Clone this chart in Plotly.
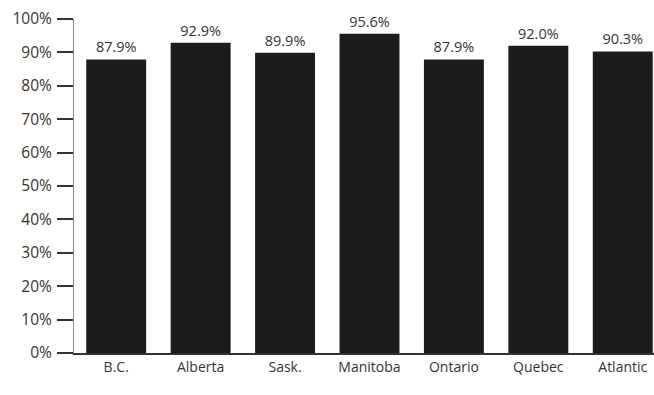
import plotly.graph_objects as go

provinces = ["B.C.", "Alberta", "Sask.", "Manitoba", "Ontario", "Quebec", "Atlantic"]
values = [87.9, 92.9, 89.9, 95.6, 87.9, 92.0, 90.3]
value_labels = ["87.9%", "92.9%", "89.9%", "95.6%", "87.9%", "92.0%", "90.3%"]
y_ticks = [0, 10, 20, 30, 40, 50, 60, 70, 80, 90, 100]
y_tick_labels = [f"{v}%" for v in y_ticks]

fig = go.Figure(
    go.Bar(
        x=list(range(len(provinces))),
        y=values,
        text=value_labels,
        textposition="outside",
        cliponaxis=False,
        textfont=dict(size=14.5, color="#333333", family="Open Sans"),
        marker=dict(color="#1c1c1c", line=dict(width=0)),
        width=0.71,
    )
)

fig.update_layout(
    width=654,
    height=395,
    margin=dict(l=74, r=0, t=19, b=42),
    paper_bgcolor="white",
    plot_bgcolor="white",
    showlegend=False,
    font=dict(family="Open Sans", color="#333333"),
    xaxis=dict(
        range=[-0.5, 6.37],
        tickmode="array",
        tickvals=list(range(len(provinces))),
        ticktext=provinces,
        showgrid=False,
        zeroline=False,
        showline=True,
        linecolor="#333333",
        linewidth=1.5,
        ticks="",
        tickfont=dict(size=14, color="#333333"),
    ),
    yaxis=dict(
        range=[0, 100],
        tickmode="array",
        tickvals=y_ticks,
        ticktext=y_tick_labels,
        showgrid=False,
        zeroline=False,
        showline=True,
        linecolor="#888888",
        linewidth=1,
        ticks="outside",
        ticklen=16,
        tickcolor="#333333",
        tickwidth=1.5,
        ticklabelstandoff=2,
        tickfont=dict(size=15.5, color="#333333"),
    ),
)

fig.write_html(
    "out.html",
    config={"displayModeBar": False},
    post_script="document.body.style.margin='0';document.body.style.overflow='hidden';",
)
